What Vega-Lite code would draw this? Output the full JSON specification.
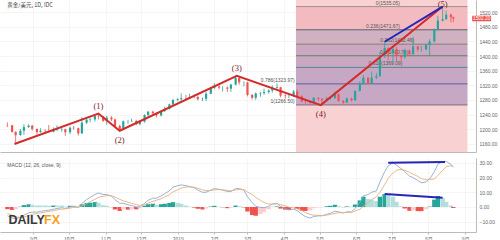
{
"$schema": "https://vega.github.io/schema/vega-lite/v6.json",
"padding": 0,
"background": "white",
"spacing": 0,
"resolve": {"scale": {"color": "independent"}},
"config": {"view": {"stroke": null}, "font": "Liberation Sans", "axis": {"labelFontSize": 5, "labelColor": "#666", "gridColor": "#eeeeee", "gridWidth": 0.6, "domainColor": "#bbbbbb", "tickColor": "#bbbbbb", "title": null, "labelOverlap": false, "labelBound": false, "labelFlush": false}},
"datasets": {
"px": [
{"d":"2018-08-10","o":1212,"h":1219,"l":1206,"c":1211},
{"d":"2018-08-14","o":1211,"h":1212,"l":1191,"c":1193},
{"d":"2018-08-17","o":1193,"h":1194,"l":1160,"c":1184},
{"d":"2018-08-21","o":1184,"h":1201,"l":1183,"c":1196},
{"d":"2018-08-24","o":1196,"h":1214,"l":1185,"c":1206},
{"d":"2018-08-28","o":1206,"h":1214,"l":1204,"c":1210},
{"d":"2018-08-31","o":1210,"h":1212,"l":1196,"c":1201},
{"d":"2018-09-04","o":1201,"h":1202,"l":1186,"c":1192},
{"d":"2018-09-07","o":1192,"h":1203,"l":1191,"c":1196},
{"d":"2018-09-11","o":1196,"h":1200,"l":1189,"c":1195},
{"d":"2018-09-14","o":1195,"h":1212,"l":1191,"c":1193},
{"d":"2018-09-18","o":1193,"h":1205,"l":1192,"c":1198},
{"d":"2018-09-21","o":1198,"h":1211,"l":1195,"c":1199},
{"d":"2018-09-25","o":1199,"h":1204,"l":1193,"c":1200},
{"d":"2018-09-28","o":1200,"h":1201,"l":1182,"c":1192},
{"d":"2018-10-02","o":1192,"h":1208,"l":1187,"c":1204},
{"d":"2018-10-05","o":1204,"h":1209,"l":1199,"c":1203},
{"d":"2018-10-09","o":1203,"h":1205,"l":1183,"c":1189},
{"d":"2018-10-12","o":1189,"h":1233,"l":1187,"c":1218},
{"d":"2018-10-16","o":1218,"h":1234,"l":1214,"c":1226},
{"d":"2018-10-19","o":1226,"h":1231,"l":1219,"c":1227},
{"d":"2018-10-23","o":1227,"h":1239,"l":1221,"c":1236},
{"d":"2018-10-26","o":1236,"h":1243,"l":1227,"c":1235},
{"d":"2018-10-30","o":1235,"h":1236,"l":1220,"c":1223},
{"d":"2018-11-02","o":1223,"h":1237,"l":1212,"c":1232},
{"d":"2018-11-06","o":1232,"h":1236,"l":1222,"c":1227},
{"d":"2018-11-09","o":1227,"h":1229,"l":1207,"c":1209},
{"d":"2018-11-13","o":1209,"h":1213,"l":1196,"c":1201},
{"d":"2018-11-16","o":1201,"h":1224,"l":1199,"c":1222},
{"d":"2018-11-20","o":1222,"h":1226,"l":1215,"c":1222},
{"d":"2018-11-23","o":1222,"h":1229,"l":1220,"c":1223},
{"d":"2018-11-27","o":1223,"h":1226,"l":1211,"c":1214},
{"d":"2018-11-30","o":1214,"h":1225,"l":1211,"c":1221},
{"d":"2018-12-04","o":1221,"h":1241,"l":1218,"c":1239},
{"d":"2018-12-07","o":1239,"h":1250,"l":1234,"c":1248},
{"d":"2018-12-11","o":1248,"h":1251,"l":1240,"c":1244},
{"d":"2018-12-14","o":1244,"h":1246,"l":1232,"c":1238},
{"d":"2018-12-18","o":1238,"h":1252,"l":1235,"c":1250},
{"d":"2018-12-21","o":1250,"h":1262,"l":1247,"c":1256},
{"d":"2018-12-25","o":1256,"h":1270,"l":1254,"c":1268},
{"d":"2018-12-28","o":1268,"h":1283,"l":1265,"c":1280},
{"d":"2019-01-01","o":1280,"h":1285,"l":1276,"c":1282},
{"d":"2019-01-04","o":1282,"h":1298,"l":1278,"c":1285},
{"d":"2019-01-08","o":1285,"h":1294,"l":1279,"c":1284},
{"d":"2019-01-11","o":1284,"h":1297,"l":1283,"c":1288},
{"d":"2019-01-15","o":1288,"h":1295,"l":1285,"c":1288},
{"d":"2019-01-18","o":1288,"h":1292,"l":1279,"c":1282},
{"d":"2019-01-22","o":1282,"h":1287,"l":1277,"c":1283},
{"d":"2019-01-25","o":1283,"h":1303,"l":1277,"c":1297},
{"d":"2019-01-29","o":1297,"h":1315,"l":1296,"c":1313},
{"d":"2019-02-01","o":1313,"h":1326,"l":1310,"c":1317},
{"d":"2019-02-05","o":1317,"h":1320,"l":1309,"c":1314},
{"d":"2019-02-08","o":1314,"h":1318,"l":1303,"c":1314},
{"d":"2019-02-12","o":1314,"h":1317,"l":1302,"c":1311},
{"d":"2019-02-15","o":1311,"h":1324,"l":1302,"c":1322},
{"d":"2019-02-19","o":1322,"h":1346,"l":1320,"c":1340},
{"d":"2019-02-22","o":1340,"h":1346,"l":1322,"c":1328},
{"d":"2019-02-26","o":1328,"h":1331,"l":1317,"c":1328},
{"d":"2019-03-01","o":1328,"h":1330,"l":1290,"c":1294},
{"d":"2019-03-05","o":1294,"h":1296,"l":1281,"c":1286},
{"d":"2019-03-08","o":1286,"h":1301,"l":1280,"c":1298},
{"d":"2019-03-12","o":1298,"h":1302,"l":1289,"c":1299},
{"d":"2019-03-15","o":1299,"h":1311,"l":1294,"c":1302},
{"d":"2019-03-19","o":1302,"h":1309,"l":1297,"c":1306},
{"d":"2019-03-22","o":1306,"h":1320,"l":1300,"c":1313},
{"d":"2019-03-26","o":1313,"h":1325,"l":1311,"c":1315},
{"d":"2019-03-29","o":1315,"h":1316,"l":1287,"c":1292},
{"d":"2019-04-02","o":1292,"h":1296,"l":1284,"c":1291},
{"d":"2019-04-05","o":1291,"h":1296,"l":1285,"c":1291},
{"d":"2019-04-09","o":1291,"h":1307,"l":1289,"c":1303},
{"d":"2019-04-12","o":1303,"h":1310,"l":1289,"c":1290},
{"d":"2019-04-16","o":1290,"h":1293,"l":1274,"c":1276},
{"d":"2019-04-19","o":1276,"h":1280,"l":1270,"c":1275},
{"d":"2019-04-23","o":1275,"h":1278,"l":1266,"c":1272},
{"d":"2019-04-26","o":1272,"h":1288,"l":1269,"c":1286},
{"d":"2019-04-30","o":1286,"h":1287,"l":1278,"c":1283},
{"d":"2019-05-03","o":1283,"h":1285,"l":1266,"c":1279},
{"d":"2019-05-07","o":1279,"h":1288,"l":1278,"c":1284},
{"d":"2019-05-10","o":1284,"h":1290,"l":1281,"c":1285},
{"d":"2019-05-14","o":1285,"h":1303,"l":1283,"c":1296},
{"d":"2019-05-17","o":1296,"h":1298,"l":1275,"c":1277},
{"d":"2019-05-21","o":1277,"h":1280,"l":1269,"c":1273},
{"d":"2019-05-24","o":1273,"h":1287,"l":1272,"c":1284},
{"d":"2019-05-28","o":1284,"h":1286,"l":1276,"c":1279},
{"d":"2019-05-31","o":1279,"h":1306,"l":1278,"c":1305},
{"d":"2019-06-04","o":1305,"h":1331,"l":1303,"c":1325},
{"d":"2019-06-07","o":1325,"h":1348,"l":1322,"c":1341},
{"d":"2019-06-11","o":1341,"h":1342,"l":1323,"c":1326},
{"d":"2019-06-14","o":1326,"h":1358,"l":1325,"c":1341},
{"d":"2019-06-18","o":1341,"h":1354,"l":1337,"c":1345},
{"d":"2019-06-21","o":1345,"h":1411,"l":1343,"c":1400},
{"d":"2019-06-25","o":1400,"h":1439,"l":1395,"c":1422},
{"d":"2019-06-28","o":1422,"h":1424,"l":1388,"c":1409},
{"d":"2019-07-02","o":1409,"h":1427,"l":1382,"c":1419},
{"d":"2019-07-05","o":1419,"h":1425,"l":1386,"c":1400},
{"d":"2019-07-09","o":1400,"h":1403,"l":1386,"c":1397},
{"d":"2019-07-12","o":1397,"h":1420,"l":1393,"c":1415},
{"d":"2019-07-16","o":1415,"h":1418,"l":1400,"c":1405},
{"d":"2019-07-19","o":1405,"h":1452,"l":1404,"c":1426},
{"d":"2019-07-23","o":1426,"h":1428,"l":1412,"c":1418},
{"d":"2019-07-26","o":1418,"h":1428,"l":1412,"c":1418},
{"d":"2019-07-30","o":1418,"h":1433,"l":1416,"c":1430},
{"d":"2019-08-02","o":1430,"h":1446,"l":1400,"c":1440},
{"d":"2019-08-06","o":1440,"h":1475,"l":1437,"c":1474},
{"d":"2019-08-09","o":1474,"h":1510,"l":1470,"c":1497},
{"d":"2019-08-13","o":1497,"h":1535,"l":1494,"c":1501},
{"d":"2019-08-16","o":1501,"h":1524,"l":1498,"c":1513},
{"d":"2019-08-20","o":1513,"h":1516,"l":1492,"c":1506},
{"d":"2019-08-22","o":1506,"h":1508,"l":1492,"c":1502}
],
"md": [
{"d":"2018-08-10","m":-6,"s":-4.5,"h":-1.5,"t":"nd"},
{"d":"2018-08-14","m":-7.5,"s":-5.5,"h":-2,"t":"nd"},
{"d":"2018-08-17","m":-8,"s":-6.5,"h":-1.5,"t":"nu"},
{"d":"2018-08-21","m":-7,"s":-7.2,"h":0.2,"t":"pu"},
{"d":"2018-08-24","m":-5.5,"s":-6.8,"h":1.3,"t":"pu"},
{"d":"2018-08-28","m":-4,"s":-5.8,"h":1.8,"t":"pu"},
{"d":"2018-08-31","m":-3.5,"s":-5,"h":1.5,"t":"pd"},
{"d":"2018-09-04","m":-3.5,"s":-4.5,"h":1,"t":"pd"},
{"d":"2018-09-07","m":-3,"s":-4,"h":1,"t":"pd"},
{"d":"2018-09-11","m":-2.5,"s":-3.5,"h":1,"t":"pd"},
{"d":"2018-09-14","m":-2.2,"s":-3,"h":0.8,"t":"pd"},
{"d":"2018-09-18","m":-1.5,"s":-2.5,"h":1,"t":"pu"},
{"d":"2018-09-21","m":-1,"s":-2,"h":1,"t":"pd"},
{"d":"2018-09-25","m":-0.5,"s":-1.5,"h":1,"t":"pd"},
{"d":"2018-09-28","m":-1,"s":-1.3,"h":0.3,"t":"pd"},
{"d":"2018-10-02","m":0,"s":-0.8,"h":0.8,"t":"pu"},
{"d":"2018-10-05","m":0.5,"s":-0.3,"h":0.8,"t":"pd"},
{"d":"2018-10-09","m":-0.2,"s":-0.2,"h":0,"t":"pd"},
{"d":"2018-10-12","m":2.5,"s":0.7,"h":1.8,"t":"pu"},
{"d":"2018-10-16","m":5,"s":2.2,"h":2.8,"t":"pu"},
{"d":"2018-10-19","m":6.5,"s":3.6,"h":2.9,"t":"pu"},
{"d":"2018-10-23","m":8.5,"s":5.2,"h":3.3,"t":"pu"},
{"d":"2018-10-26","m":9.5,"s":6.6,"h":2.9,"t":"pd"},
{"d":"2018-10-30","m":8.5,"s":7.3,"h":1.2,"t":"pd"},
{"d":"2018-11-02","m":8.5,"s":7.7,"h":0.8,"t":"pd"},
{"d":"2018-11-06","m":7.5,"s":7.6,"h":-0.1,"t":"nd"},
{"d":"2018-11-09","m":5,"s":6.7,"h":-1.7,"t":"nd"},
{"d":"2018-11-13","m":2.5,"s":5.2,"h":-2.7,"t":"nd"},
{"d":"2018-11-16","m":2.5,"s":4.2,"h":-1.7,"t":"nu"},
{"d":"2018-11-20","m":1.5,"s":3.3,"h":-1.8,"t":"nd"},
{"d":"2018-11-23","m":1,"s":2.5,"h":-1.5,"t":"nu"},
{"d":"2018-11-27","m":0,"s":1.6,"h":-1.6,"t":"nd"},
{"d":"2018-11-30","m":0.2,"s":1.1,"h":-0.9,"t":"nu"},
{"d":"2018-12-04","m":2.5,"s":1.6,"h":0.9,"t":"pu"},
{"d":"2018-12-07","m":4.5,"s":2.6,"h":1.9,"t":"pu"},
{"d":"2018-12-11","m":6,"s":3.8,"h":2.2,"t":"pu"},
{"d":"2018-12-14","m":6,"s":4.6,"h":1.4,"t":"pd"},
{"d":"2018-12-18","m":7.5,"s":5.6,"h":1.9,"t":"pu"},
{"d":"2018-12-21","m":9,"s":6.8,"h":2.2,"t":"pu"},
{"d":"2018-12-25","m":11,"s":8.3,"h":2.7,"t":"pu"},
{"d":"2018-12-28","m":13.5,"s":10.2,"h":3.3,"t":"pu"},
{"d":"2019-01-01","m":14.5,"s":11.7,"h":2.8,"t":"pd"},
{"d":"2019-01-04","m":15,"s":12.9,"h":2.1,"t":"pd"},
{"d":"2019-01-08","m":14.5,"s":13.5,"h":1,"t":"pd"},
{"d":"2019-01-11","m":14,"s":13.7,"h":0.3,"t":"pd"},
{"d":"2019-01-15","m":13,"s":13.4,"h":-0.4,"t":"nd"},
{"d":"2019-01-18","m":11.5,"s":12.7,"h":-1.2,"t":"nd"},
{"d":"2019-01-22","m":10,"s":11.7,"h":-1.7,"t":"nd"},
{"d":"2019-01-25","m":10,"s":11.1,"h":-1.1,"t":"nu"},
{"d":"2019-01-29","m":11.5,"s":11.2,"h":0.3,"t":"pu"},
{"d":"2019-02-01","m":12.5,"s":11.7,"h":0.8,"t":"pu"},
{"d":"2019-02-05","m":12,"s":11.8,"h":0.2,"t":"pd"},
{"d":"2019-02-08","m":11.5,"s":11.7,"h":-0.2,"t":"nd"},
{"d":"2019-02-12","m":10.5,"s":11.3,"h":-0.8,"t":"nd"},
{"d":"2019-02-15","m":10.5,"s":11,"h":-0.5,"t":"nu"},
{"d":"2019-02-19","m":12.5,"s":11.5,"h":1,"t":"pu"},
{"d":"2019-02-22","m":12.5,"s":11.9,"h":0.6,"t":"pd"},
{"d":"2019-02-26","m":11.5,"s":11.8,"h":-0.3,"t":"nd"},
{"d":"2019-03-01","m":7,"s":10.1,"h":-3.1,"t":"nd"},
{"d":"2019-03-05","m":3,"s":8.5,"h":-5.5,"t":"nd"},
{"d":"2019-03-08","m":0.5,"s":6.5,"h":-6,"t":"nd"},
{"d":"2019-03-12","m":-0.3,"s":4.5,"h":-4.8,"t":"nu"},
{"d":"2019-03-15","m":-0.5,"s":3,"h":-3.5,"t":"nu"},
{"d":"2019-03-19","m":0.5,"s":2,"h":-1.5,"t":"nu"},
{"d":"2019-03-22","m":2,"s":1.9,"h":0.1,"t":"pu"},
{"d":"2019-03-26","m":2.5,"s":2.1,"h":0.4,"t":"pu"},
{"d":"2019-03-29","m":0.5,"s":1.6,"h":-1.1,"t":"nd"},
{"d":"2019-04-02","m":-1,"s":0.8,"h":-1.8,"t":"nd"},
{"d":"2019-04-05","m":-2,"s":-0.1,"h":-1.9,"t":"nd"},
{"d":"2019-04-09","m":-1.5,"s":-0.6,"h":-0.9,"t":"nu"},
{"d":"2019-04-12","m":-2.5,"s":-1.2,"h":-1.3,"t":"nd"},
{"d":"2019-04-16","m":-5,"s":-2.5,"h":-2.5,"t":"nd"},
{"d":"2019-04-19","m":-6.5,"s":-3.8,"h":-2.7,"t":"nd"},
{"d":"2019-04-23","m":-7.5,"s":-5.1,"h":-2.4,"t":"nu"},
{"d":"2019-04-26","m":-6.5,"s":-5.6,"h":-0.9,"t":"nu"},
{"d":"2019-04-30","m":-6,"s":-5.7,"h":-0.3,"t":"nu"},
{"d":"2019-05-03","m":-6,"s":-5.8,"h":-0.2,"t":"nu"},
{"d":"2019-05-07","m":-5,"s":-5.5,"h":0.5,"t":"pu"},
{"d":"2019-05-10","m":-4.3,"s":-5.1,"h":0.8,"t":"pu"},
{"d":"2019-05-14","m":-2.8,"s":-4.3,"h":1.5,"t":"pu"},
{"d":"2019-05-17","m":-3.3,"s":-3.9,"h":0.6,"t":"pd"},
{"d":"2019-05-21","m":-4,"s":-3.9,"h":-0.1,"t":"nd"},
{"d":"2019-05-24","m":-3.3,"s":-3.7,"h":0.4,"t":"pu"},
{"d":"2019-05-28","m":-3.3,"s":-3.6,"h":0.3,"t":"pd"},
{"d":"2019-05-31","m":-1,"s":-2.7,"h":1.7,"t":"pu"},
{"d":"2019-06-04","m":3,"s":-1.5,"h":4.5,"t":"pu"},
{"d":"2019-06-07","m":7.5,"s":0.5,"h":7,"t":"pu"},
{"d":"2019-06-11","m":8.5,"s":3,"h":5.5,"t":"pd"},
{"d":"2019-06-14","m":10,"s":5,"h":5,"t":"pd"},
{"d":"2019-06-18","m":11,"s":7,"h":4,"t":"pd"},
{"d":"2019-06-21","m":17,"s":10,"h":7,"t":"pu"},
{"d":"2019-06-25","m":24,"s":15.2,"h":8.8,"t":"pu"},
{"d":"2019-06-28","m":28,"s":19.5,"h":8.5,"t":"pd"},
{"d":"2019-07-02","m":30,"s":23,"h":7,"t":"pd"},
{"d":"2019-07-05","m":28.5,"s":25,"h":3.5,"t":"pd"},
{"d":"2019-07-09","m":26,"s":25.5,"h":0.5,"t":"pd"},
{"d":"2019-07-12","m":24,"s":25,"h":-1,"t":"nd"},
{"d":"2019-07-16","m":21,"s":23.6,"h":-2.6,"t":"nd"},
{"d":"2019-07-19","m":20,"s":22.3,"h":-2.3,"t":"nu"},
{"d":"2019-07-23","m":18,"s":20.8,"h":-2.8,"t":"nd"},
{"d":"2019-07-26","m":16.5,"s":19.3,"h":-2.8,"t":"nd"},
{"d":"2019-07-30","m":17,"s":18.5,"h":-1.5,"t":"nu"},
{"d":"2019-08-02","m":19,"s":18.7,"h":0.3,"t":"pu"},
{"d":"2019-08-06","m":24,"s":19,"h":5,"t":"pu"},
{"d":"2019-08-09","m":29,"s":21.5,"h":7.5,"t":"pu"},
{"d":"2019-08-13","m":31,"s":24.8,"h":6.2,"t":"pd"},
{"d":"2019-08-16","m":31,"s":27.5,"h":3.5,"t":"pd"},
{"d":"2019-08-20","m":29,"s":28,"h":1,"t":"pd"},
{"d":"2019-08-22","m":27,"s":27.7,"h":-0.7,"t":"nd"}
],
"ew": [
{"d":"2018-08-16","p":1160,"n":"","sd":"dn"},
{"d":"2018-10-26","p":1243,"n":"(1)","sd":"up"},
{"d":"2018-11-13","p":1196,"n":"(2)","sd":"dn"},
{"d":"2019-02-20","p":1346,"n":"(3)","sd":"up"},
{"d":"2019-05-02","p":1266,"n":"(4)","sd":"dn"},
{"d":"2019-08-13","p":1535,"n":"(5)","sd":"top"}
],
"fib": [
{"r":"0","p":1535.05,"lab":"0(1535.05)","d0":"2019-04-11","d1":"2019-09-03","ld":"2019-07-08"},
{"r":"0.236","p":1471.67,"lab":"0.236(1471.67)","d0":"2019-04-11","d1":"2019-09-03","ld":"2019-07-08"},
{"r":"0.382","p":1432.46,"lab":"0.382(1432.46)","d0":"2019-04-11","d1":"2019-09-03","ld":"2019-07-20"},
{"r":"0.5","p":1400.78,"lab":"0.5(1400.78)","d0":"2019-04-11","d1":"2019-09-03","ld":"2019-07-15"},
{"r":"0.618","p":1369.09,"lab":"0.618(1369.09)","d0":"2019-04-11","d1":"2019-09-03","ld":"2019-07-10"},
{"r":"0.786","p":1323.97,"lab":"0.786(1323.97)","d0":"2019-04-11","d1":"2019-09-03","ld":"2019-04-10"},
{"r":"1","p":1266.5,"lab":"1(1266.50)","d0":"2019-04-11","d1":"2019-09-03","ld":"2019-04-10"}
],
"fibb": [
{"lv":"a","t":1535.05,"b":1471.67,"d0":"2019-04-11","d1":"2019-09-03"},
{"lv":"b","t":1471.67,"b":1432.46,"d0":"2019-04-11","d1":"2019-09-03"},
{"lv":"c","t":1432.46,"b":1400.78,"d0":"2019-04-11","d1":"2019-09-03"},
{"lv":"d","t":1400.78,"b":1369.09,"d0":"2019-04-11","d1":"2019-09-03"},
{"lv":"e","t":1369.09,"b":1323.97,"d0":"2019-04-11","d1":"2019-09-03"},
{"lv":"f","t":1323.97,"b":1266.5,"d0":"2019-04-11","d1":"2019-09-03"}
]
},
"vconcat": [
{
"width": 476, "height": 152,
"resolve": {"scale": {"color": "independent"}, "axis": {"x": "independent", "y": "independent"}},
"layer": [
{"data": {"values": [{"d0":"2019-04-11","d1":"2019-09-03","lo":1138,"hi":1553}]},
 "mark": {"type": "rect", "color": "#f8d2d2"},
 "encoding": {
  "x": {"field": "d0", "type": "temporal", "axis": null, "scale": {"type": "utc", "domain": [{"year":2018,"month":8,"date":8,"utc":true},{"year":2019,"month":9,"date":6,"utc":true}]}},
  "x2": {"field": "d1"},
  "y": {"field": "lo", "type": "quantitative", "axis": null, "scale": {"domain": [1138, 1553], "nice": false, "zero": false}},
  "y2": {"field": "hi"}}},
{"data": {"name": "fibb"},
 "mark": {"type": "rect", "opacity": 0.5},
 "encoding": {
  "x": {"field": "d0", "type": "temporal", "axis": null, "scale": {"type": "utc", "domain": [{"year":2018,"month":8,"date":8,"utc":true},{"year":2019,"month":9,"date":6,"utc":true}]}},
  "x2": {"field": "d1"},
  "y": {"field": "t", "type": "quantitative", "axis": null},
  "y2": {"field": "b"},
  "color": {"field": "lv", "type": "nominal", "scale": {"domain": ["a","b","c","d","e","f"], "range": ["#eea4ac","#a890b0","#9c7eb0","#9c7eb0","#967eb6","#967eb6"]}, "legend": null}}},
{"data": {"name": "fib"},
 "mark": {"type": "rule", "strokeWidth": 1},
 "encoding": {
  "x": {"field": "d0", "type": "temporal", "axis": null, "scale": {"type": "utc", "domain": [{"year":2018,"month":8,"date":8,"utc":true},{"year":2019,"month":9,"date":6,"utc":true}]}},
  "x2": {"field": "d1"},
  "y": {"field": "p", "type": "quantitative", "axis": null},
  "color": {"field": "r", "type": "nominal", "scale": {"domain": ["0","0.236","0.382","0.5","0.618","0.786","1"], "range": ["#a09090","#5a6070","#8a7a70","#5f7f60","#4f8a90","#5a60a0","#807080"]}, "legend": null}}},
{"data": {"name": "fib"},
 "mark": {"type": "text", "fontSize": 5, "align": "right", "baseline": "bottom", "dy": -1, "color": "#555"},
 "encoding": {
  "x": {"field": "ld", "type": "temporal", "axis": null, "scale": {"type": "utc", "domain": [{"year":2018,"month":8,"date":8,"utc":true},{"year":2019,"month":9,"date":6,"utc":true}]}},
  "y": {"field": "p", "type": "quantitative", "axis": null},
  "text": {"field": "lab"}}},
{"mark": {"type": "rule", "color": "#f08a8a", "strokeWidth": 1, "opacity": 0.8},
 "encoding": {"y": {"datum": 1502.2, "type": "quantitative", "axis": null}}},
{"data": {"name": "px"},
 "mark": {"type": "rule", "strokeWidth": 0.8},
 "encoding": {
  "x": {"field": "d", "type": "temporal", "title": null, "scale": {"type": "utc", "domain": [{"year":2018,"month":8,"date":8,"utc":true},{"year":2019,"month":9,"date":6,"utc":true}]},
    "axis": {"values": [{"year":2018,"month":9,"date":1,"utc":true},{"year":2018,"month":10,"date":1,"utc":true},{"year":2018,"month":11,"date":1,"utc":true},{"year":2018,"month":12,"date":1,"utc":true},{"year":2019,"month":1,"date":1,"utc":true},{"year":2019,"month":2,"date":1,"utc":true},{"year":2019,"month":3,"date":1,"utc":true},{"year":2019,"month":4,"date":1,"utc":true},{"year":2019,"month":5,"date":1,"utc":true},{"year":2019,"month":6,"date":1,"utc":true},{"year":2019,"month":7,"date":1,"utc":true},{"year":2019,"month":8,"date":1,"utc":true},{"year":2019,"month":9,"date":1,"utc":true}], "labels": false, "ticks": false, "domain": true, "grid": true, "title": null}},
  "y": {"field": "l", "type": "quantitative", "axis": null},
  "y2": {"field": "h"},
  "color": {"condition": {"test": "datum.c >= datum.o", "value": "#26a69a"}, "value": "#ef5350"}}},
{"data": {"name": "px"},
 "mark": {"type": "bar", "width": 2.2},
 "encoding": {
  "x": {"field": "d", "type": "temporal", "axis": null, "scale": {"type": "utc", "domain": [{"year":2018,"month":8,"date":8,"utc":true},{"year":2019,"month":9,"date":6,"utc":true}]}},
  "y": {"field": "o", "type": "quantitative", "title": null, "axis": {"orient": "right", "values": [1160,1200,1240,1280,1320,1360,1400,1440,1480,1520], "format": ".2f", "grid": true, "ticks": false, "labelPadding": 3, "domain": true, "title": null, "labelOverlap": false, "labelFontSize": 5}},
  "y2": {"field": "c"},
  "color": {"condition": {"test": "datum.c >= datum.o", "value": "#26a69a"}, "value": "#ef5350"}}},
{"data": {"name": "ew"},
 "mark": {"type": "line", "color": "#d42a2a", "strokeWidth": 2},
 "encoding": {
  "x": {"field": "d", "type": "temporal", "axis": null, "scale": {"type": "utc", "domain": [{"year":2018,"month":8,"date":8,"utc":true},{"year":2019,"month":9,"date":6,"utc":true}]}},
  "y": {"field": "p", "type": "quantitative", "axis": null}}},
{"data": {"name": "ew"},
 "transform": [{"filter": "datum.sd == 'up'"}],
 "mark": {"type": "text", "font": "Liberation Serif", "fontSize": 8.5, "color": "#7b1c1c", "dy": -8},
 "encoding": {
  "x": {"field": "d", "type": "temporal", "axis": null, "scale": {"type": "utc", "domain": [{"year":2018,"month":8,"date":8,"utc":true},{"year":2019,"month":9,"date":6,"utc":true}]}},
  "y": {"field": "p", "type": "quantitative", "axis": null},
  "text": {"field": "n"}}},
{"data": {"name": "ew"},
 "transform": [{"filter": "datum.sd == 'top'"}],
 "mark": {"type": "text", "font": "Liberation Serif", "fontSize": 8.5, "color": "#7b1c1c", "dy": -2.5},
 "encoding": {
  "x": {"field": "d", "type": "temporal", "axis": null, "scale": {"type": "utc", "domain": [{"year":2018,"month":8,"date":8,"utc":true},{"year":2019,"month":9,"date":6,"utc":true}]}},
  "y": {"field": "p", "type": "quantitative", "axis": null},
  "text": {"field": "n"}}},
{"data": {"name": "ew"},
 "transform": [{"filter": "datum.sd == 'dn'"}],
 "mark": {"type": "text", "font": "Liberation Serif", "fontSize": 8.5, "color": "#7b1c1c", "dy": 9},
 "encoding": {
  "x": {"field": "d", "type": "temporal", "axis": null, "scale": {"type": "utc", "domain": [{"year":2018,"month":8,"date":8,"utc":true},{"year":2019,"month":9,"date":6,"utc":true}]}},
  "y": {"field": "p", "type": "quantitative", "axis": null},
  "text": {"field": "n"}}},
{"data": {"values": [{"d":"2019-06-25","p":1439},{"d":"2019-08-13","p":1535}]},
 "mark": {"type": "line", "color": "#2626b8", "strokeWidth": 2},
 "encoding": {
  "x": {"field": "d", "type": "temporal", "axis": null, "scale": {"type": "utc", "domain": [{"year":2018,"month":8,"date":8,"utc":true},{"year":2019,"month":9,"date":6,"utc":true}]}},
  "y": {"field": "p", "type": "quantitative", "axis": null}}},
{"data": {"values": [{"d":"2018-08-10","p":1539,"txt":"黄金/美元, 1D, IDC"}]},
 "mark": {"type": "text", "font": "Noto Sans CJK SC", "fontSize": 5.5, "align": "left", "color": "#444"},
 "encoding": {
  "x": {"field": "d", "type": "temporal", "axis": null, "scale": {"type": "utc", "domain": [{"year":2018,"month":8,"date":8,"utc":true},{"year":2019,"month":9,"date":6,"utc":true}]}},
  "y": {"field": "p", "type": "quantitative", "axis": null},
  "text": {"field": "txt"}}},
{"data": {"values": [{"d0":"2019-09-07","d1":"2019-09-23","lo":1495,"hi":1510}]},
 "mark": {"type": "rect", "color": "#ef5350", "clip": false},
 "encoding": {
  "x": {"field": "d0", "type": "temporal", "axis": null, "scale": {"type": "utc", "domain": [{"year":2018,"month":8,"date":8,"utc":true},{"year":2019,"month":9,"date":6,"utc":true}]}},
  "x2": {"field": "d1"},
  "y": {"field": "lo", "type": "quantitative", "axis": null},
  "y2": {"field": "hi"}}},
{"data": {"values": [{"d":"2019-09-15","p":1502.2,"txt":"1502.20"}]},
 "mark": {"type": "text", "fontSize": 4.8, "color": "white", "clip": false},
 "encoding": {
  "x": {"field": "d", "type": "temporal", "axis": null, "scale": {"type": "utc", "domain": [{"year":2018,"month":8,"date":8,"utc":true},{"year":2019,"month":9,"date":6,"utc":true}]}},
  "y": {"field": "p", "type": "quantitative", "axis": null},
  "text": {"field": "txt"}}}
]
},
{
"width": 476, "height": 74,
"resolve": {"scale": {"color": "independent"}, "axis": {"x": "independent", "y": "independent"}},
"layer": [
{"data": {"name": "md"},
 "mark": {"type": "bar", "width": 4.4},
 "encoding": {
  "x": {"field": "d", "type": "temporal", "title": null, "scale": {"type": "utc", "domain": [{"year":2018,"month":8,"date":8,"utc":true},{"year":2019,"month":9,"date":6,"utc":true}]},
    "axis": {"values": [{"year":2018,"month":9,"date":1,"utc":true},{"year":2018,"month":10,"date":1,"utc":true},{"year":2018,"month":11,"date":1,"utc":true},{"year":2018,"month":12,"date":1,"utc":true},{"year":2019,"month":1,"date":1,"utc":true},{"year":2019,"month":2,"date":1,"utc":true},{"year":2019,"month":3,"date":1,"utc":true},{"year":2019,"month":4,"date":1,"utc":true},{"year":2019,"month":5,"date":1,"utc":true},{"year":2019,"month":6,"date":1,"utc":true},{"year":2019,"month":7,"date":1,"utc":true},{"year":2019,"month":8,"date":1,"utc":true},{"year":2019,"month":9,"date":1,"utc":true}],
      "labelExpr": "utcmonth(datum.value) == 0 ? '' + utcyear(datum.value) : (utcmonth(datum.value) + 1) + '月'", "labelFont": "Noto Sans CJK SC", "labelFontSize": 5, "ticks": true, "tickSize": 2, "labelPadding": 2, "grid": true, "domain": true, "title": null, "labelOverlap": false}},
  "y": {"field": "h", "type": "quantitative", "title": null, "scale": {"domain": [-17, 33.3], "nice": false, "zero": false},
    "axis": {"orient": "right", "values": [-10, 0, 10, 20, 30], "format": ".2f", "grid": true, "ticks": false, "labelPadding": 3, "domain": true, "title": null, "labelOverlap": false, "labelFontSize": 5}},
  "y2": {"datum": 0},
  "color": {"field": "t", "type": "nominal", "scale": {"domain": ["pu","pd","nd","nu"], "range": ["#26a69a","#b2dfdb","#ef5350","#ffcdd2"]}, "legend": null}}},
{"data": {"name": "md"},
 "mark": {"type": "line", "color": "#8aaad0", "strokeWidth": 0.9},
 "encoding": {
  "x": {"field": "d", "type": "temporal", "axis": null, "scale": {"type": "utc", "domain": [{"year":2018,"month":8,"date":8,"utc":true},{"year":2019,"month":9,"date":6,"utc":true}]}},
  "y": {"field": "m", "type": "quantitative", "axis": null}}},
{"data": {"name": "md"},
 "mark": {"type": "line", "color": "#e8b07c", "strokeWidth": 0.9},
 "encoding": {
  "x": {"field": "d", "type": "temporal", "axis": null, "scale": {"type": "utc", "domain": [{"year":2018,"month":8,"date":8,"utc":true},{"year":2019,"month":9,"date":6,"utc":true}]}},
  "y": {"field": "s", "type": "quantitative", "axis": null}}},
{"data": {"values": [{"d":"2019-06-28","v":30,"g":"a"},{"d":"2019-08-15","v":30.5,"g":"a"},{"d":"2019-06-25","v":8.8,"g":"b"},{"d":"2019-08-13","v":6.2,"g":"b"}]},
 "mark": {"type": "line", "color": "#2626b8", "strokeWidth": 2},
 "encoding": {
  "x": {"field": "d", "type": "temporal", "axis": null, "scale": {"type": "utc", "domain": [{"year":2018,"month":8,"date":8,"utc":true},{"year":2019,"month":9,"date":6,"utc":true}]}},
  "y": {"field": "v", "type": "quantitative", "axis": null},
  "detail": {"field": "g"}}},
{"data": {"values": [{"d":"2018-08-10","v":28.5,"txt":"MACD (12, 26, close, 9)"}]},
 "mark": {"type": "text", "fontSize": 5, "align": "left", "color": "#555"},
 "encoding": {
  "x": {"field": "d", "type": "temporal", "axis": null, "scale": {"type": "utc", "domain": [{"year":2018,"month":8,"date":8,"utc":true},{"year":2019,"month":9,"date":6,"utc":true}]}},
  "y": {"field": "v", "type": "quantitative", "axis": null},
  "text": {"field": "txt"}}},
{"data": {"values": [{"d":"2018-08-11","v":-9,"txt":"DAILY","k":"a"},{"d":"2018-09-10","v":-9,"txt":"FX","k":"b"}]},
 "mark": {"type": "text", "fontSize": 12.5, "fontWeight": "bold", "align": "left", "baseline": "middle"},
 "encoding": {
  "x": {"field": "d", "type": "temporal", "axis": null, "scale": {"type": "utc", "domain": [{"year":2018,"month":8,"date":8,"utc":true},{"year":2019,"month":9,"date":6,"utc":true}]}},
  "y": {"field": "v", "type": "quantitative", "axis": null},
  "text": {"field": "txt"},
  "color": {"field": "k", "type": "nominal", "scale": {"domain": ["a","b"], "range": ["#3a3a3a","#f5a01a"]}, "legend": null}}}
]
}
]
}
